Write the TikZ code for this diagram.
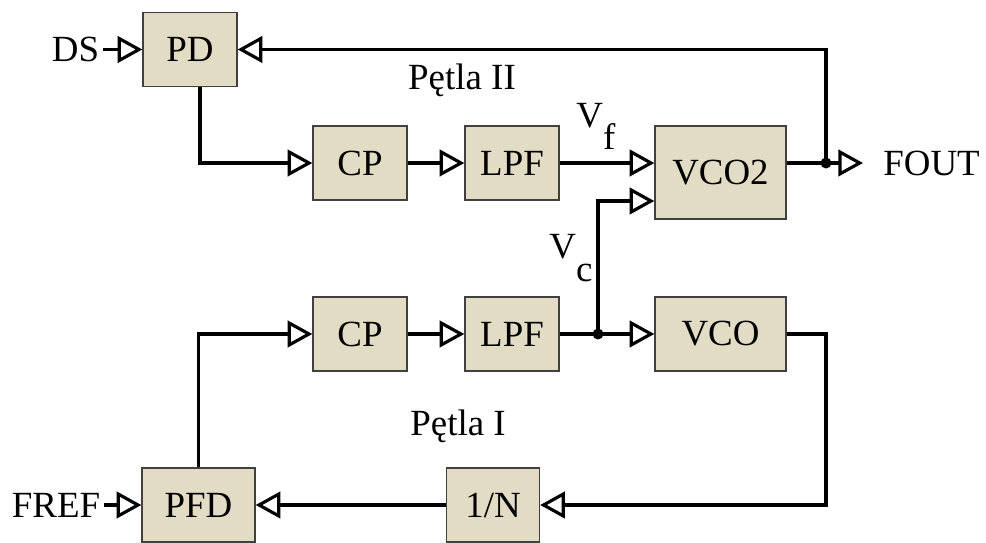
\documentclass[tikz,border=0pt]{standalone}
\usepackage{fontspec}
\setmainfont{Liberation Serif}
\usepackage{xcolor}
\usetikzlibrary{arrows.meta,positioning,calc}
\definecolor{boxfill}{HTML}{E3DCC4}

\begin{document}
\begin{tikzpicture}[x=0.02cm,y=-0.02cm,
  blk/.style={draw=black!75,line width=0.8pt,fill=boxfill,minimum width=1.88cm,minimum height=1.48cm,inner sep=0pt,font=\fontsize{21}{25}\selectfont},
  txt/.style={inner sep=2pt,font=\fontsize{21}{25}\selectfont},
  wire/.style={line width=2pt},
  arr/.style={wire,-{Triangle[open,length=14pt,width=15pt,line width=1.8pt]}},
  dot/.style={circle,fill=black,inner sep=0pt,minimum size=0.22cm},
]
  \useasboundingbox (0,0) rectangle (986,543);
  \fill[white] (0,0) rectangle (986,543);

  % Loop II (top)
  \node[blk] (pd)   at (190,49.5) {PD};
  \node[blk] (cpf)  at (360,163) {CP};
  \node[blk] (lpff) at (512,163) {LPF};
  \node[blk,minimum width=2.62cm,minimum height=1.86cm] (vcob) at (720.5,172.5) {VCO2};

  % Loop I (bottom)
  \node[blk] (cpc)  at (360,334) {CP};
  \node[blk] (lpfc) at (512,334) {LPF};
  \node[blk,minimum width=2.62cm] (vco) at (720.5,334) {VCO};
  \node[blk,minimum width=2.26cm] (pfd) at (198.5,505) {PFD};
  \node[blk,minimum width=1.86cm] (div) at (493,505) {1/N};

  % inputs, output, labels
  \node[txt,anchor=east] (ds)   at (103,49.5) {DS};
  \node[txt,anchor=east] (fref) at (104,505) {FREF};
  \node[txt,anchor=west,inner xsep=0.4cm] (fout) at (863,163) {FOUT};
  \node[txt,anchor=base] (loop2) at (462,90) {Pętla II};
  \node[txt,anchor=base] (loop1) at (458,435) {Pętla I};
  \node[txt,anchor=base west,inner sep=0pt] (vf) at (576,128) {V\raisebox{-12pt}{f}};
  \node[txt,anchor=base west,inner sep=0pt] (vc) at (549,259) {V\raisebox{-13pt}{c}};

  \coordinate (jf) at (826,163);
  \coordinate (jc) at (598,334);
  \coordinate (br) at (826,505);

  % Arrows
  \draw[arr] (ds) -- (pd);
  \draw[arr] ($(pd.south)+(10,0)$) |- (cpf.west);
  \draw[arr] (cpf) -- (lpff);
  \draw[arr] (lpff.east) -- (lpff.east -| vcob.west);
  \draw[wire] (vcob.east |- jf) -- (jf);
  \draw[arr] (jf) -- (fout.west);
  \draw[arr] (jf) |- (pd.east);
  \node[dot] (dotf) at (jf) {};

  \draw[arr] (fref) -- (pfd);
  \draw[arr] (pfd.north) |- (cpc.west);
  \draw[arr] (cpc) -- (lpfc);
  \draw[arr] (lpfc) -- (vco);
  \draw[arr] (jc) |- ($(vcob.west)+(0,28.5)$);
  \node[dot] (dotc) at (jc) {};
  \draw[arr] (vco.east) -| (br) -- (div.east);
  \draw[arr] (div) -- (pfd);
\end{tikzpicture}
\end{document}
